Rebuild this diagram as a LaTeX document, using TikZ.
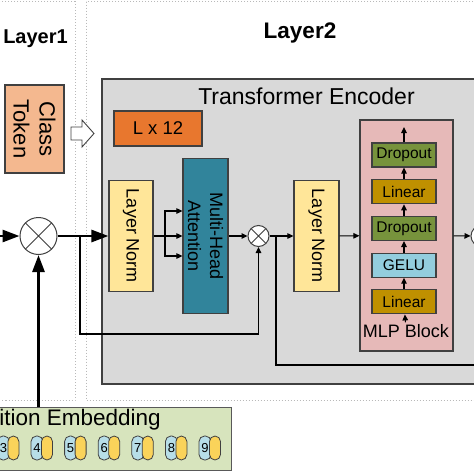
\documentclass[tikz,border=0pt]{standalone}
\usepackage{fontspec}
\setmainfont{Liberation Sans}
\usetikzlibrary{arrows.meta}
\usetikzlibrary{positioning}
\usepackage{xcolor}
\definecolor{boxline}{HTML}{404040}
\definecolor{encgray}{HTML}{D9D9D9}
\definecolor{tokenorange}{HTML}{F4B88F}
\definecolor{reporange}{HTML}{E8772E}
\definecolor{normyellow}{HTML}{FFE699}
\definecolor{attnteal}{HTML}{31849B}
\definecolor{mlppink}{HTML}{E6B9B8}
\definecolor{dropgreen}{HTML}{77933C}
\definecolor{lingold}{HTML}{BF9000}
\definecolor{gelublue}{HTML}{93CDDD}
\definecolor{posgreen}{HTML}{D7E4BD}
\definecolor{pillblue}{HTML}{B7DEE8}
\definecolor{pillyellow}{HTML}{FAD35A}
\tikzset{
  box/.style={draw=boxline, line width=1.2pt, inner sep=0pt, align=center},
  vbox/.style={box, rotate=-90, font=\fontsize{18}{22}\selectfont},
  mlpbox/.style={box, minimum width=64pt, minimum height=24pt, font=\fontsize{15.5}{18}\selectfont},
  mult/.style={circle, draw=boxline, fill=white, line width=1pt,
    path picture={\draw[line width=0.8pt] (path picture bounding box.north west) -- (path picture bounding box.south east)
      (path picture bounding box.north east) -- (path picture bounding box.south west);}},
  heavy/.style={line width=2.8pt, -{Triangle[length=17pt,width=12pt]}},
  frame/.style={draw=gray!55, dotted, line width=1pt},
  pill/.style={draw=boxline, line width=0.8pt, rounded corners=5.5pt, minimum width=12pt, minimum height=24pt, inner sep=0pt}
}

\begin{document}
\begin{tikzpicture}[x=1pt,y=-1pt,line width=1.1pt,>={Triangle[length=6pt,width=5.5pt]}]
\useasboundingbox (0,0) rectangle (474,474);
\draw[frame] (-10,1.5) rectangle (75,400);
\draw[frame] (86,1.5) rectangle (490,400);
\node [anchor=base,font=\bfseries\fontsize{20}{24}\selectfont] (layer1) at (35.5,43) {Layer1};
\node [anchor=base,font=\bfseries\fontsize{22.5}{26}\selectfont] (layer2) at (300,38) {Layer2};

\node [vbox,fill=tokenorange,minimum width=88pt,minimum height=59pt,font=\fontsize{22}{26}\selectfont] (cls) at (34.5,129) {Class\\Token};
\draw [fill=white,draw=boxline,line width=0.9pt] (71,127) -- (82,127) -- (82,120) -- (94,133.5) -- (82,147) -- (82,140) -- (71,140) -- cycle;

\node [box,fill=encgray,line width=1.5pt,minimum width=399pt,minimum height=305pt,anchor=north west] (enc) at (101,78) {};
\node [anchor=base,font=\fontsize{23}{27}\selectfont] (enctitle) at (306.5,104) {Transformer Encoder};
\node [box,fill=reporange,minimum width=88pt,minimum height=35pt,font=\fontsize{18.5}{22}\selectfont] (rep) at (158,128.5) {L x 12};

\node [vbox,fill=normyellow,minimum width=111pt,minimum height=44pt] (ln1) at (131,236) {Layer Norm};
\node [vbox,fill=attnteal,minimum width=155pt,minimum height=45pt] (mha) at (205.5,236) {Multi-Head\\Attention};
\node [vbox,fill=normyellow,minimum width=111pt,minimum height=45pt] (ln2) at (316.5,236) {Layer Norm};

\node [box,fill=mlppink,minimum width=93pt,minimum height=231pt] (mlp) at (406.5,235.5) {};
\node [mlpbox,fill=dropgreen] (drop2) at (404,155) {Dropout};
\node [mlpbox,fill=lingold,below=11.5pt,at=(drop2.south)] (lin2) {Linear};
\node [mlpbox,fill=dropgreen,below=11.5pt,at=(lin2.south)] (drop1) {Dropout};
\node [mlpbox,fill=gelublue,below=11.5pt,at=(drop1.south)] (gelu) {GELU};
\node [mlpbox,fill=lingold,below=11.5pt,at=(gelu.south)] (lin1) {Linear};
\node [anchor=base,inner sep=1pt,font=\fontsize{18}{22}\selectfont] (mlplabel) at (406,337) {MLP Block};
\coordinate (mlpout) at (404,127);

\node [mult,minimum size=37pt] (mul1) at (38.5,236) {};
\node [mult,minimum size=21pt] (mul2) at (258.5,236) {};
\node [mult,minimum size=21pt] (mul3) at (481.5,236) {};
\coordinate (in) at (-5,236);
\coordinate (split) at (165,236);
\coordinate (res1) at (80,236);
\coordinate (res2) at (276,236);

\node [box,draw=gray!70!black,fill=posgreen,minimum width=300pt,minimum height=63pt,anchor=north east] (pos) at (232,407) {};
\node [anchor=base west,inner sep=0pt,font=\fontsize{22.5}{26}\selectfont] (postitle) at (-40,425) {Position Embedding};
\foreach \n in {3,...,9} {
  \node [pill,fill=pillblue,font=\fontsize{13}{15}\selectfont] (pb\n) at ({37+(\n-4)*33.6},448) {\n};
  \node [pill,fill=pillyellow,minimum width=11pt] (py\n) at ({47+(\n-4)*33.6},448) {};
}

\draw [heavy] (in) -- (mul1);
\draw [heavy] (pos.north -| mul1) -- (mul1);
\draw [heavy] (mul1) -- (ln1);
\draw (ln1) -- (split);
\draw [->] (split) -- (mha);
\draw [->] (split) |- ([yshift=25pt]mha.south);
\draw [->] (split) |- ([yshift=-20pt]mha.south);
\draw [->] (mha) -- (mul2);
\draw [->] (mul2) -- (ln2);
\draw [->] (ln2) -- (mlp);
\draw [->] (mlp) -- (mul3);
\draw [->] (res1) -- ++(0,98) -| (mul2.south);
\draw [->] (res2) -- ++(0,129) -| (mul3.south);

\draw [->] (mlplabel) -- (lin1);
\draw [->] (lin1) -- (gelu);
\draw [->] (gelu) -- (drop1);
\draw [->] (drop1) -- (lin2);
\draw [->] (lin2) -- (drop2);
\draw [->] (drop2) -- (mlpout);
\end{tikzpicture}
\end{document}
